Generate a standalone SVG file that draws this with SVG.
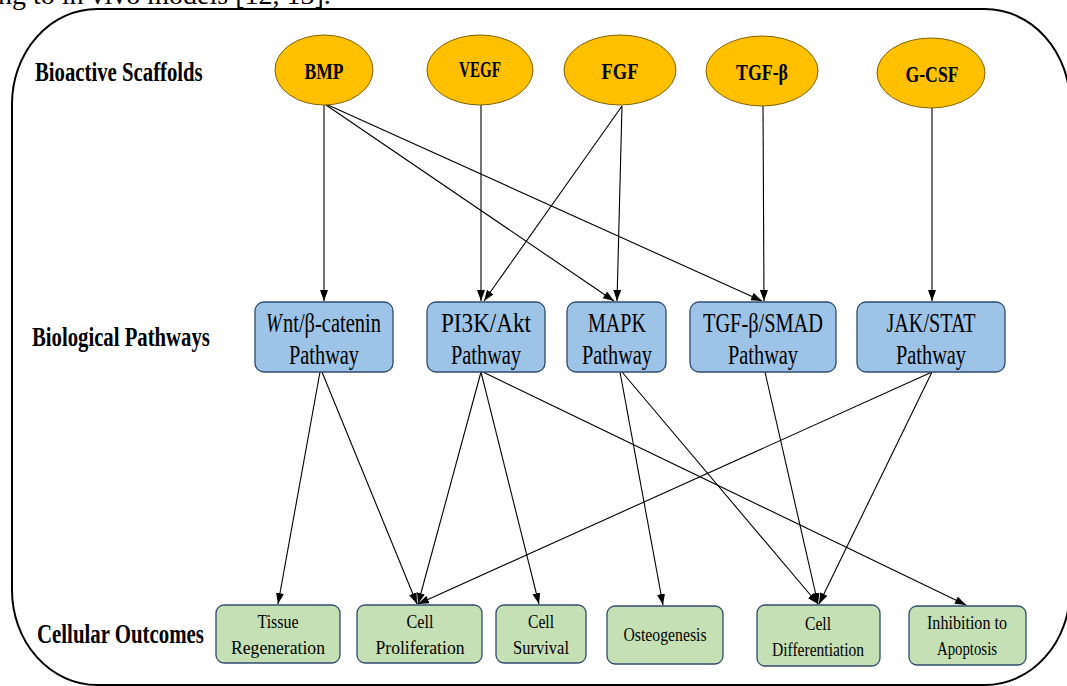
<svg xmlns="http://www.w3.org/2000/svg" width="1067" height="686" viewBox="0 0 1067 686">
<style>
.lvl{font-family:"Liberation Serif","Times New Roman",serif;font-weight:bold;font-size:27px;fill:#000}
.sc ellipse{fill:#FFC000;stroke:#7F6000;stroke-width:1}
.sc text{font-family:"Liberation Serif","Times New Roman",serif;font-weight:bold;font-size:24px;fill:#000;text-anchor:middle}
.pw rect{fill:#9DC3E6;stroke:#2F4B6E;stroke-width:1.3}
.pw text{font-family:"Liberation Serif","Times New Roman",serif;font-size:27px;fill:#000;text-anchor:middle}
.oc rect{fill:#C5E0B4;stroke:#2F4B6E;stroke-width:1.3}
.oc text{font-family:"Liberation Serif","Times New Roman",serif;font-size:18.5px;fill:#000;text-anchor:middle}
#connectors line{stroke:#000;stroke-width:1.1;fill:none;marker-end:url(#ah)}
</style>
<defs>
<marker id="ah" markerUnits="userSpaceOnUse" markerWidth="11" markerHeight="8" refX="11" refY="4" orient="auto">
<path d="M0,0 L11,4 L0,8 z" fill="#000"/>
</marker>
</defs>
<rect width="1067" height="686" fill="#fff"/>
<text x="-2" y="4" font-family="Liberation Serif, Times New Roman, serif" font-size="28" fill="#000">ng to in vivo models [12, 13].</text>
<rect id="frame" x="12" y="9" width="1058" height="676" rx="85" ry="95" fill="none" stroke="#000" stroke-width="2"/>

<g id="levels">
<text class="lvl" transform="matrix(0.78 0 0 1 35 81)" x="0" y="0" textLength="215" lengthAdjust="spacingAndGlyphs">Bioactive Scaffolds</text>
<text class="lvl" transform="matrix(0.78 0 0 1 32 346)" x="0" y="0" textLength="228" lengthAdjust="spacingAndGlyphs">Biological Pathways</text>
<text class="lvl" transform="matrix(0.78 0 0 1 37 643)" x="0" y="0" textLength="214" lengthAdjust="spacingAndGlyphs">Cellular Outcomes</text>
</g>

<g id="connectors">
<line x1="324" y1="105" x2="324" y2="301"/>
<line x1="326" y1="105" x2="614" y2="301"/>
<line x1="328" y1="105" x2="762" y2="301"/>
<line x1="481" y1="105" x2="481" y2="301"/>
<line x1="622" y1="106" x2="484" y2="301"/>
<line x1="622" y1="106" x2="617" y2="301"/>
<line x1="763" y1="106" x2="764" y2="301"/>
<line x1="932" y1="108" x2="932" y2="301"/>
<line x1="320" y1="372" x2="278" y2="604"/>
<line x1="322" y1="372" x2="417" y2="604"/>
<line x1="481" y1="372" x2="418" y2="604"/>
<line x1="481" y1="372" x2="539" y2="604"/>
<line x1="483" y1="372" x2="966" y2="605"/>
<line x1="620" y1="372" x2="663" y2="605"/>
<line x1="622" y1="372" x2="818" y2="604"/>
<line x1="765" y1="372" x2="818" y2="604"/>
<line x1="932" y1="372" x2="418" y2="604"/>
<line x1="932" y1="372" x2="819" y2="604"/>
</g>

<g id="bmp" class="sc"><ellipse cx="324" cy="70" rx="49" ry="35"/><text x="324" y="79" textLength="39" lengthAdjust="spacingAndGlyphs">BMP</text></g>
<g id="vegf" class="sc"><ellipse cx="480" cy="70" rx="53" ry="35"/><text x="480" y="77" font-size="19" textLength="42" lengthAdjust="spacingAndGlyphs">VEGF</text></g>
<g id="fgf" class="sc"><ellipse cx="620" cy="70" rx="56" ry="35"/><text x="620" y="79" textLength="37" lengthAdjust="spacingAndGlyphs">FGF</text></g>
<g id="tgfb" class="sc"><ellipse cx="762" cy="71" rx="56" ry="35"/><text x="762" y="80" textLength="52" lengthAdjust="spacingAndGlyphs">TGF-β</text></g>
<g id="gcsf" class="sc"><ellipse cx="931" cy="73" rx="54" ry="35"/><text x="932" y="82" textLength="53" lengthAdjust="spacingAndGlyphs">G-CSF</text></g>

<g id="wnt" class="pw"><rect x="255" y="302" width="138" height="70" rx="9"/><text transform="matrix(0.7 0 0 1 266 332)" x="0" y="0" font-style="italic" style="text-anchor:start">W</text><text x="283" y="332" style="text-anchor:start" textLength="98" lengthAdjust="spacingAndGlyphs">nt/β-catenin</text><text x="324" y="364" textLength="70" lengthAdjust="spacingAndGlyphs">Pathway</text></g>
<g id="pi3k" class="pw"><rect x="427" y="302" width="118" height="70" rx="9"/><text x="486" y="332" textLength="90" lengthAdjust="spacingAndGlyphs">PI3K/Akt</text><text x="486" y="364" textLength="70" lengthAdjust="spacingAndGlyphs">Pathway</text></g>
<g id="mapk" class="pw"><rect x="567" y="302" width="99" height="70" rx="9"/><text x="617" y="332" textLength="58" lengthAdjust="spacingAndGlyphs">MAPK</text><text x="617" y="364" textLength="70" lengthAdjust="spacingAndGlyphs">Pathway</text></g>
<g id="smad" class="pw"><rect x="690" y="302" width="146" height="70" rx="9"/><text x="763" y="332" textLength="120" lengthAdjust="spacingAndGlyphs">TGF-β/SMAD</text><text x="763" y="364" textLength="70" lengthAdjust="spacingAndGlyphs">Pathway</text></g>
<g id="jak" class="pw"><rect x="857" y="302" width="148" height="70" rx="9"/><text x="931" y="332" textLength="89" lengthAdjust="spacingAndGlyphs">JAK/STAT</text><text x="931" y="364" textLength="70" lengthAdjust="spacingAndGlyphs">Pathway</text></g>

<g id="tissue" class="oc"><rect x="216" y="605" width="124" height="58" rx="8"/><text x="278" y="628" textLength="41" lengthAdjust="spacingAndGlyphs">Tissue</text><text x="278" y="654" textLength="94" lengthAdjust="spacingAndGlyphs">Regeneration</text></g>
<g id="prolif" class="oc"><rect x="357" y="605" width="125" height="58" rx="8"/><text x="420" y="628" textLength="27" lengthAdjust="spacingAndGlyphs">Cell</text><text x="420" y="654" textLength="89" lengthAdjust="spacingAndGlyphs">Proliferation</text></g>
<g id="survival" class="oc"><rect x="496" y="605" width="90" height="58" rx="8"/><text x="541" y="628" textLength="26" lengthAdjust="spacingAndGlyphs">Cell</text><text x="541" y="654" textLength="56" lengthAdjust="spacingAndGlyphs">Survival</text></g>
<g id="osteo" class="oc"><rect x="607" y="606" width="116" height="58" rx="8"/><text x="665" y="641" textLength="83" lengthAdjust="spacingAndGlyphs">Osteogenesis</text></g>
<g id="diff" class="oc"><rect x="757" y="605" width="123" height="61" rx="8"/><text x="818" y="630" textLength="26" lengthAdjust="spacingAndGlyphs">Cell</text><text x="818" y="656" textLength="92" lengthAdjust="spacingAndGlyphs">Differentiation</text></g>
<g id="inhib" class="oc"><rect x="909" y="606" width="117" height="59" rx="8"/><text x="967" y="629" textLength="80" lengthAdjust="spacingAndGlyphs">Inhibition to</text><text x="967" y="655" textLength="60" lengthAdjust="spacingAndGlyphs">Apoptosis</text></g>
</svg>
